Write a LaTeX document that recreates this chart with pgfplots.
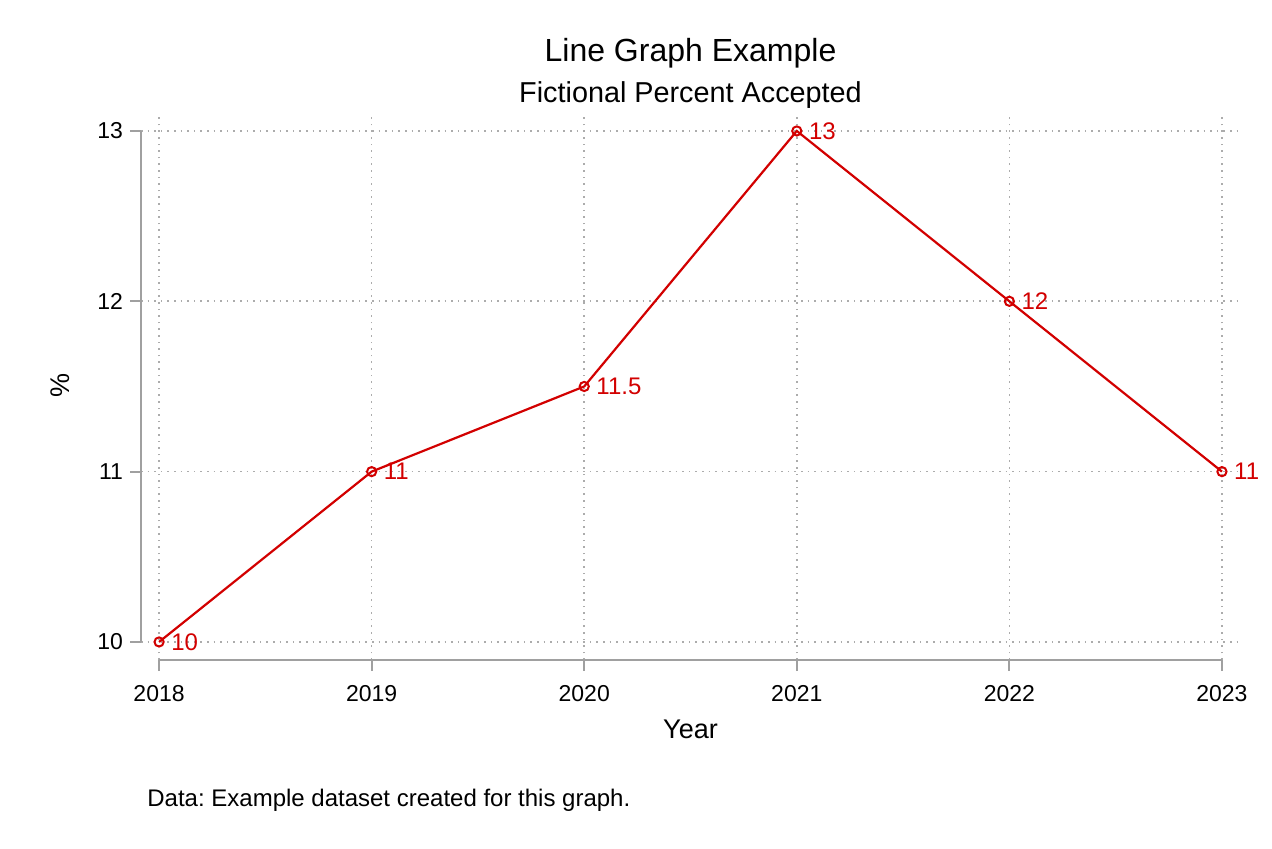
\documentclass[border=0pt]{standalone}
\usepackage{pgfplots}
\pgfplotsset{compat=1.18}
\usepackage{fontspec}
\setmainfont{Liberation Sans}
\frenchspacing
\definecolor{datared}{RGB}{210,0,0}
\definecolor{axgray}{RGB}{160,160,160}
\begin{document}
\begin{tikzpicture}
\path (0,0) rectangle (636pt,424pt);
\begin{axis}[
 at={(70.5pt,94pt)}, anchor=south west, scale only axis,
 width=549.5pt, height=271.5pt,
 xmin=2017.915, xmax=2023.085, ymin=9.894, ymax=13.082,
 axis line style={draw=none},
 xtick={2018,2019,2020,2021,2022,2023}, ytick={10,11,12,13},
 xticklabels={2018,2019,2020,2021,2022,2023},
 tick align=outside, xtick pos=bottom, ytick pos=left,
 major tick length=5.5pt,
 tick style={axgray, line width=0.9pt},
 grid=major, major grid style={gray!65, line width=0.8pt, dash pattern=on 0.8pt off 2.5pt},
 ticklabel style={font=\fontsize{11.5}{13}\selectfont},
 xticklabel style={yshift=-3.5pt},
 /pgf/number format/assume math mode=true,
 clip=false,
 nodes near coords, point meta=explicit symbolic,
 nodes near coords style={anchor=west, font=\fontsize{12}{14}\selectfont, text=datared, xshift=2.3pt, yshift=0pt},
]
\addplot[datared, line width=1.1pt, mark=o, mark size=2.3pt, mark options={line width=1pt, solid}]
 coordinates {(2018,10) [10] (2019,11) [11] (2020,11.5) [11.5] (2021,13) [13] (2022,12) [12] (2023,11) [11]};
\draw[axgray, line width=1pt] (axis cs:2017.915,10) -- (axis cs:2017.915,13);
\draw[axgray, line width=1pt] (axis cs:2018,9.894) -- (axis cs:2023,9.894);
\end{axis}
\node[font=\fontsize{16}{19}\selectfont] at (345.25pt,397.5pt) {Line Graph Example};
\node[font=\fontsize{14.4}{17}\selectfont] at (345.25pt,376.5pt) {Fictional Percent Accepted};
\node[font=\fontsize{13.5}{16}\selectfont] at (345.25pt,59.5pt) {Year};
\node[font=\fontsize{13.5}{16}\selectfont, rotate=90] at (30pt,231.5pt) {\%};
\node[font=\fontsize{12}{14}\selectfont, anchor=west, inner sep=0pt] at (73.5pt,24pt) {Data: Example dataset created for this graph.};
\end{tikzpicture}
\end{document}
